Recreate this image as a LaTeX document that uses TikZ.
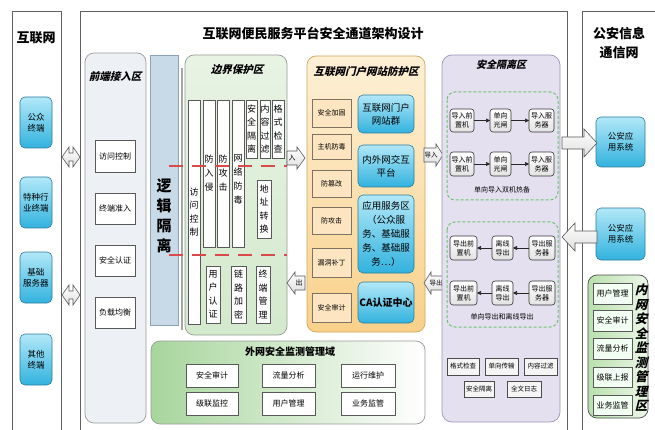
\documentclass[tikz,border=0pt]{standalone}
\usepackage{fontspec}
\setmainfont{Noto Sans CJK SC}
\newfontfamily\slantfont{Noto Sans CJK SC}[FakeSlant=0.25]
\usetikzlibrary{arrows.meta}
\definecolor{cyanT}{HTML}{B2E8F8}
\definecolor{cyanB}{HTML}{32B2DE}
\definecolor{cyanD}{HTML}{2E7C9B}
\definecolor{frontF}{HTML}{EDF1F6}
\definecolor{logicF}{HTML}{C8D9E8}
\definecolor{logicD}{HTML}{8DA4B8}
\definecolor{greenT}{HTML}{E8F3E4}
\definecolor{greenB}{HTML}{D3E9CC}
\definecolor{portalT}{HTML}{FEF0D6}
\definecolor{portalB}{HTML}{F8D18A}
\definecolor{portalD}{HTML}{D4A65A}
\definecolor{tanF}{HTML}{FCE5C0}
\definecolor{tanD}{HTML}{7E7262}
\definecolor{isoF}{HTML}{E4E0F0}
\definecolor{isoD}{HTML}{9D96B6}
\definecolor{dashG}{HTML}{6CC46C}
\definecolor{redD}{HTML}{D94A4A}
\definecolor{zoneD}{HTML}{9A9A9A}
\definecolor{inGL}{HTML}{B9E0AC}
\definecolor{inGR}{HTML}{ECF7E8}
\definecolor{outGL}{HTML}{A7D59C}
\newcommand\fs[2]{\fontsize{#1}{#2}\selectfont}
\newcommand\bx[7]{\node[#6,minimum width={(#4)-(#2)},minimum height={(#5)-(#3)}] (#1) at ({((#2)+(#4))/2},{((#3)+(#5))/2}) {#7};}
\tikzset{
  frame/.style={draw=gray!75!black,line width=0.8pt},
  base/.style={inner sep=0pt,outer sep=0pt,align=center,text=black},
  cyanbox/.style={base,draw=cyanD,rounded corners=5pt,top color=cyanT,bottom color=cyanB,line width=0.6pt},
  zone/.style={base,draw=zoneD,rounded corners=9pt,line width=0.7pt},
  wbox/.style={base,draw=gray!70!black,fill=white,line width=0.6pt},
  tanbox/.style={base,draw=tanD,fill=tanF,line width=0.6pt,font=\fs{7}{8}},
  vbox/.style={base,draw=gray!70!black,fill=white,line width=0.6pt,font=\fs{9}{13.5}},
  gbox/.style={base,draw=gray!40!black,rounded corners=3pt,top color=white,bottom color=gray!22,line width=0.6pt,font=\fs{7}{9}},
  sbox/.style={base,draw=gray!60!black,fill=gray!8,line width=0.6pt,font=\fs{6.5}{8}},
  gdash/.style={draw=dashG,dashed,dash pattern=on 3pt off 2pt,rounded corners=8pt,line width=1pt},
  sarrow/.style={-{Triangle[length=4pt,width=4pt]},draw=gray!30!black,line width=0.6pt},
  blockar/.style={draw=gray!70!black,top color=white,bottom color=gray!25,line width=0.6pt},
  reddash/.style={draw=redD,line width=1.2pt,dash pattern=on 14pt off 9pt},
  ztitle/.style={base,font=\slantfont\fs{10.5}{12}\bfseries},
}
% right-pointing block arrow: tail x, tip x, centre y, shaft half, head half, head length
\newcommand\rarrow[6]{\path[blockar] (#1,{#3-#4}) -- ({#2-#6},{#3-#4}) -- ({#2-#6},{#3-#5}) -- (#2,#3) -- ({#2-#6},{#3+#5}) -- ({#2-#6},{#3+#4}) -- (#1,{#3+#4}) -- cycle;}
\newcommand\larrow[6]{\path[blockar] (#1,{#3-#4}) -- ({#2+#6},{#3-#4}) -- ({#2+#6},{#3-#5}) -- (#2,#3) -- ({#2+#6},{#3+#5}) -- ({#2+#6},{#3+#4}) -- (#1,{#3+#4}) -- cycle;}
\newcommand\dblarrow[1]{\path[blockar] (62,#1) -- (69,{#1-10}) -- (69,{#1-4}) -- (73,{#1-4}) -- (73,{#1-10}) -- (80,#1) -- (73,{#1+10}) -- (73,{#1+4}) -- (69,{#1+4}) -- (69,{#1+10}) -- cycle;}
\begin{document}
\begin{tikzpicture}[x=1pt,y=-1pt]
\useasboundingbox (0,0) rectangle (655,430);
\fill[white] (0,0) rectangle (655,430);
% outer frames
\draw[frame] (12,431) -- (12,11) -- (61,11) -- (61,431);
\draw[frame] (80,431) -- (80,11) -- (567,11) -- (567,431);
\draw[frame] (582,431) -- (582,11) -- (656,11);
\node[base,font=\fs{13}{15}\bfseries] (tnet) at (36,38) {互联网};
\node[base,font=\fs{13}{15}\bfseries] (tmain) at (313,33) {互联网便民服务平台安全通道架构设计};
\node[base,font=\fs{13}{19}\bfseries] (tpol) at (619,43) {公安信息\\通信网};
% terminals
\bx{t1}{20}{97}{52}{148}{cyanbox,font=\fs{8.5}{11}}{公众\\终端}
\bx{t2}{20}{177}{52}{228}{cyanbox,font=\fs{8.5}{11}}{特种行\\业终端}
\bx{t3}{20}{252}{52}{303}{cyanbox,font=\fs{8.5}{11}}{基础\\服务器}
\bx{t4}{20}{334}{52}{385}{cyanbox,font=\fs{8.5}{11}}{其他\\终端}
\dblarrow{157}
\dblarrow{295}
% front access zone
\bx{front}{85}{53}{146}{423}{zone,fill=frontF}{}
\node[ztitle] (tfront) at (115,77) {前端接入区};
\bx{fa1}{95}{140}{135}{172}{wbox,font=\fs{8}{9}}{访问控制}
\bx{fa2}{95}{193}{135}{224}{wbox,font=\fs{8}{9}}{终端准入}
\bx{fa3}{95}{245}{135}{276}{wbox,font=\fs{8}{9}}{安全认证}
\bx{fa4}{95}{297}{135}{328}{wbox,font=\fs{8}{9}}{负载均衡}
% logical isolation
\bx{logic}{150}{55}{178}{325}{base,draw=logicD,fill=logicF,line width=0.6pt}{}
\node[base,font=\fs{15}{20}\bfseries] (tlogic) at (164,216) {逻\\辑\\隔\\离};
\draw[gray!70,line width=1.2pt] (182,68) -- (182,330);
% border protection zone
\bx{border}{185}{55}{287}{335}{zone,top color=greenT,bottom color=greenB}{}
\node[ztitle] (tborder) at (237,70) {边界保护区};
\bx{b1}{188}{100}{200}{324}{vbox}{}
\node[base,font=\fs{9}{13.5}] (b1t) at (194,212) {访\\问\\控\\制};
\bx{b2}{203}{100}{215}{247}{vbox}{}
\node[base,font=\fs{9}{14}] (b2t) at (209,173) {防\\入\\侵};
\bx{b3}{217}{100}{229}{247}{vbox}{}
\node[base,font=\fs{9}{14}] (b3t) at (223,173) {防\\攻\\击};
\bx{b4}{232}{100}{244}{247}{vbox}{}
\node[base,font=\fs{9}{14}] (b4t) at (238,179) {网\\络\\防\\毒};
\bx{b5}{246}{100}{257}{158}{vbox}{安\\全\\隔\\离}
\bx{b6}{260}{100}{270}{158}{vbox}{内\\容\\过\\滤}
\bx{b7}{272}{100}{284}{158}{vbox}{格\\式\\检\\查}
\bx{b8}{257}{180}{271}{238}{vbox}{地\\址\\转\\换}
\bx{b9}{206}{266}{220}{323}{vbox}{用\\户\\认\\证}
\bx{b10}{231}{266}{246}{323}{vbox}{链\\路\\加\\密}
\bx{b11}{256}{266}{270}{323}{vbox}{终\\端\\管\\理}
\draw[reddash] (169,166) -- (287,166);
\draw[reddash] (169,255) -- (287,255);
\rarrow{287}{305}{158}{7}{11}{8}
\node[base,font=\fs{7}{8}] (lin) at (292,158) {入};
\larrow{305}{287}{283}{7}{11}{8}
\node[base,font=\fs{7}{8}] (lout) at (299,283) {出};
% portal protection zone
\bx{portal}{307}{56}{425}{332}{zone,draw=portalD,top color=portalT,bottom color=portalB}{}
\node[ztitle] (tportal) at (366,72) {互联网门户网站防护区};
\bx{p1}{312}{99}{351}{127}{tanbox}{安全加固}
\bx{p2}{312}{134}{351}{159}{tanbox}{主机防毒}
\bx{p3}{312}{170}{351}{197}{tanbox}{防篡改}
\bx{p4}{312}{207}{351}{234}{tanbox}{防攻击}
\bx{p5}{312}{248}{351}{277}{tanbox}{漏洞补丁}
\bx{p6}{312}{293}{351}{322}{tanbox}{安全审计}
\bx{c1}{358}{95}{414}{133}{cyanbox,font=\fs{9.5}{13}}{互联网门户\\网站群}
\bx{c2}{358}{145}{414}{187}{cyanbox,font=\fs{9.5}{13}}{内外网交互\\平台}
\bx{c3}{358}{195}{414}{273}{cyanbox,font=\fs{9.5}{14.2}}{应用服务区\\（公众服\\务、基础服\\务、基础服\\务…）}
\bx{c4}{358}{282}{414}{323}{cyanbox,font=\fs{10}{12}\bfseries}{CA认证中心}
\rarrow{424}{443}{155}{7}{11}{7}
\node[base,font=\fs{6.5}{8}] (limp) at (431,155) {导入};
\larrow{443}{424}{283}{7}{11}{7}
\node[base,font=\fs{6.5}{8}] (lexp) at (436,283) {导出};
% security isolation zone
\bx{iso}{442}{55}{560}{422}{zone,draw=isoD,fill=isoF,rounded corners=10pt}{}
\node[ztitle,font=\slantfont\fs{10}{12}\bfseries] (tiso) at (501,65) {安全隔离区};
\draw[gdash] (447,92) rectangle (558,200);
\draw[gdash] (447,222) rectangle (558,327);
\bx{i11}{450}{109}{474}{132}{gbox}{导入前\\置机}
\bx{i12}{490}{109}{511}{132}{gbox}{单向\\光闸}
\bx{i13}{529}{109}{554}{132}{gbox}{导入服\\务器}
\bx{i21}{450}{152}{474}{176}{gbox}{导入前\\置机}
\bx{i22}{490}{152}{511}{176}{gbox}{单向\\光闸}
\bx{i23}{529}{152}{554}{176}{gbox}{导入服\\务器}
\node[base,font=\fs{7}{8}] (cap1) at (502,190) {单向导入双机热备};
\draw[sarrow] (i11) -- (i12);
\draw[sarrow] (i12) -- (i13);
\draw[sarrow] (i21) -- (i22);
\draw[sarrow] (i22) -- (i23);
\bx{o11}{450}{236}{477}{260}{gbox}{导出前\\置机}
\bx{o12}{492}{236}{513}{260}{gbox}{离线\\导出}
\bx{o13}{529}{236}{555}{260}{gbox}{导出服\\务器}
\bx{o21}{450}{281}{477}{305}{gbox}{导出前\\置机}
\bx{o22}{492}{281}{513}{305}{gbox}{离线\\导出}
\bx{o23}{529}{281}{555}{305}{gbox}{导出服\\务器}
\node[base,font=\fs{7}{8}] (cap2) at (502,317) {单向导出和离线导出};
\draw[sarrow] (o13) -- (o12);
\draw[sarrow] (o12) -- (o11);
\draw[sarrow] (o23) -- (o22);
\draw[sarrow] (o22) -- (o21);
\bx{f1}{447}{358}{479}{375}{sbox}{格式检查}
\bx{f2}{485}{358}{518}{375}{sbox}{单向传输}
\bx{f3}{524}{358}{557}{375}{sbox}{内容过滤}
\bx{f4}{464}{381}{494}{397}{sbox}{安全隔离}
\bx{f5}{507}{381}{541}{397}{sbox}{全文日志}
% police network
\bx{pa1}{596}{117}{645}{167}{cyanbox,font=\fs{8.5}{11}}{公安应\\用系统}
\bx{pa2}{596}{208}{645}{260}{cyanbox,font=\fs{8.5}{11}}{公安应\\用系统}
\rarrow{562}{597}{143}{6}{14}{13}
\larrow{597}{562}{237}{6}{14}{13}
% inner monitoring zone
\bx{inner}{588}{275}{648}{418}{zone,draw=gray!60!black,left color=inGL,right color=inGR}{}
\bx{n1}{593}{283}{632}{304}{wbox,fill=green!5,font=\fs{8}{9}}{用户管理}
\bx{n2}{593}{310}{632}{331}{wbox,fill=green!5,font=\fs{8}{9}}{安全审计}
\bx{n3}{593}{338}{632}{359}{wbox,fill=green!5,font=\fs{8}{9}}{流量分析}
\bx{n4}{593}{367}{632}{387}{wbox,fill=green!5,font=\fs{8}{9}}{级联上报}
\bx{n5}{593}{395}{632}{415}{wbox,fill=green!5,font=\fs{8}{9}}{业务监管}
\node[base,font=\slantfont\fs{12.5}{14.5}\bfseries] (tinner) at (641,348) {内\\网\\安\\全\\监\\测\\管\\理\\区};
% outer monitoring zone
\bx{outer}{151}{341}{425}{424}{zone,left color=outGL,right color=white}{}
\node[base,font=\fs{10}{12}\bfseries] (touter) at (290,352) {外网安全监测管理域};
\bx{w1}{186}{364}{238}{387}{wbox,font=\fs{8}{9}}{安全审计}
\bx{w2}{262}{364}{315}{387}{wbox,font=\fs{8}{9}}{流量分析}
\bx{w3}{341}{364}{395}{387}{wbox,font=\fs{8}{9}}{运行维护}
\bx{w4}{186}{392}{238}{415}{wbox,font=\fs{8}{9}}{级联监控}
\bx{w5}{262}{392}{315}{415}{wbox,font=\fs{8}{9}}{用户管理}
\bx{w6}{341}{392}{395}{415}{wbox,font=\fs{8}{9}}{业务监管}
\end{tikzpicture}
\end{document}
